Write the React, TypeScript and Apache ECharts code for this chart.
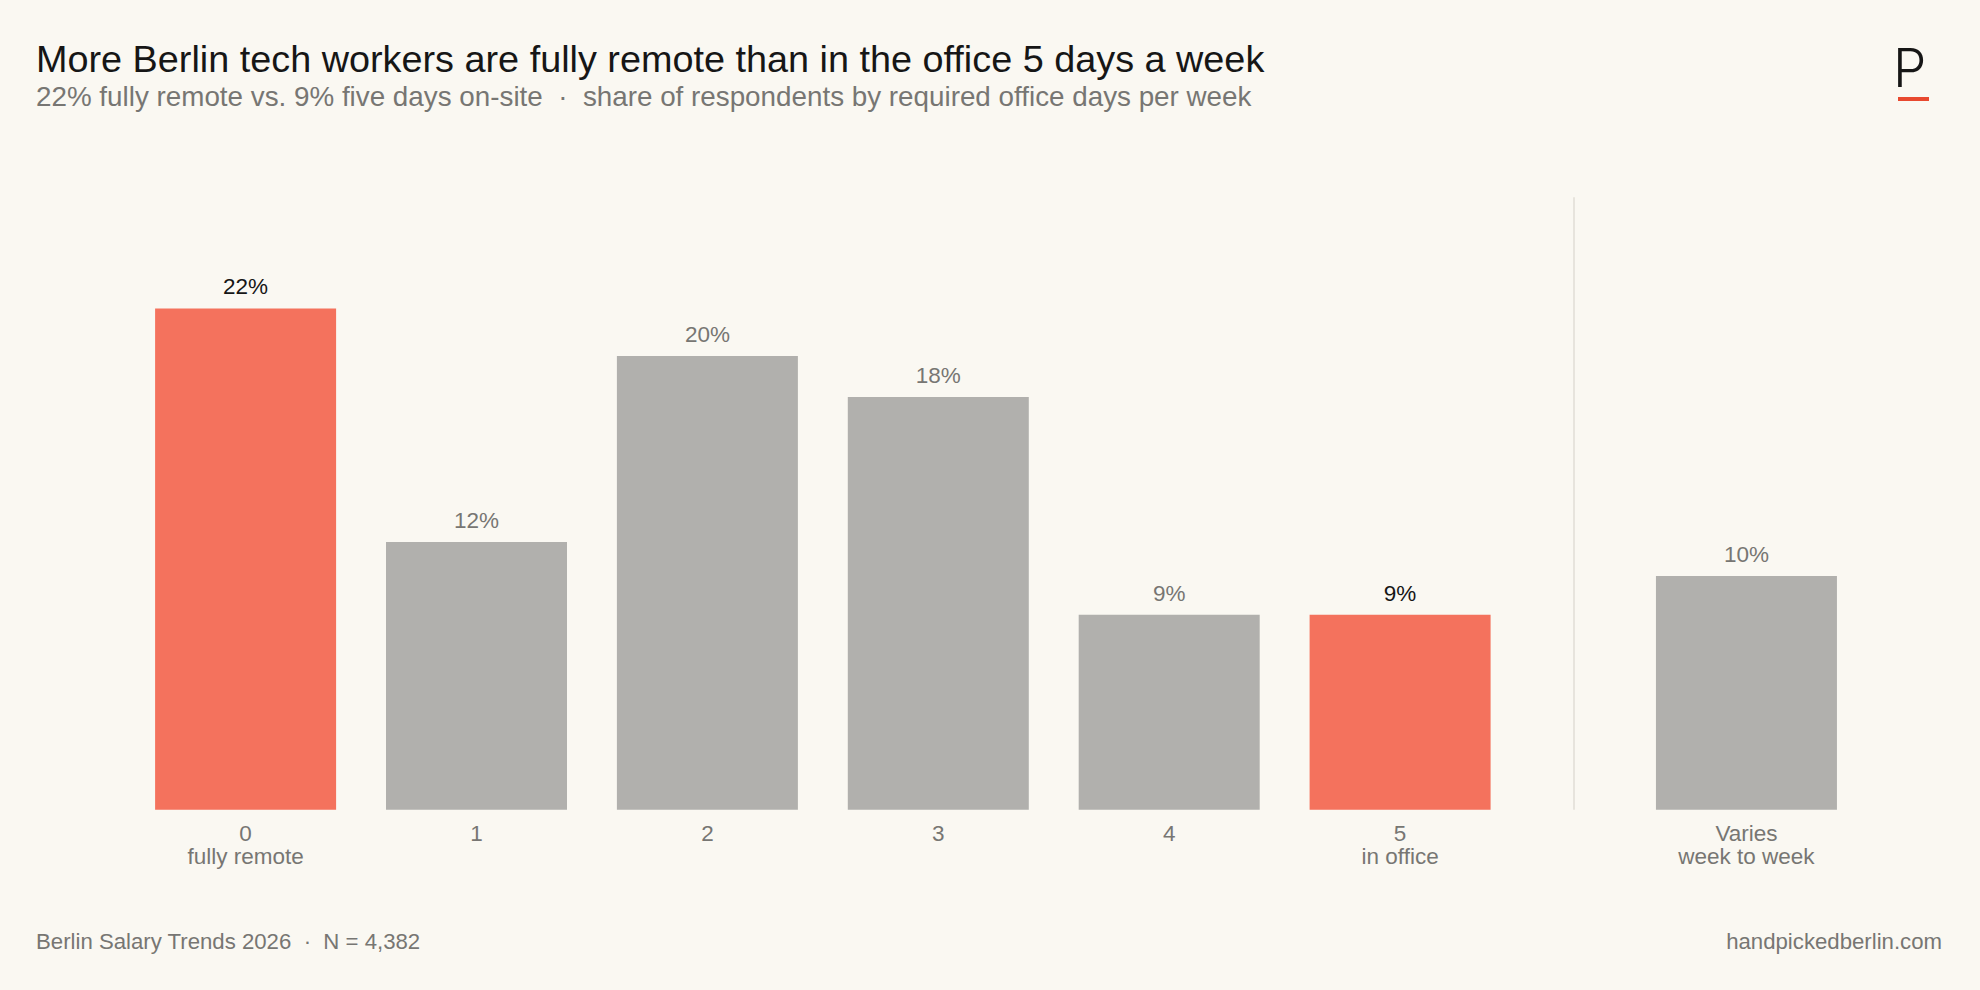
import React, { useEffect, useRef } from "react";
import * as echarts from "echarts";

// Required office days per week and the share of respondents for each answer
const dayCodes = ["0", "1", "2", "3", "4", "5", "Varies"];
const dayNotes = ["fully remote", "", "", "", "", "in office", "week to week"];
const dayPositions = [0, 1, 2, 3, 4, 5, 6.5];
const shareValues = [22.1, 11.8, 20.0, 18.2, 8.6, 8.6, 10.3];
const highlighted = [true, false, false, false, false, true, false];
const dividerAt = [5.75];

const titleText = "More Berlin tech workers are fully remote than in the office 5 days a week";
const subtitleText =
  "22% fully remote vs. 9% five days on-site  \u00b7  share of respondents by required office days per week";
const sourceText = "Berlin Salary Trends 2026  \u00b7  N = 4,382";
const siteText = "handpickedberlin.com";

const FONT = "'Liberation Sans', Arial, Helvetica, sans-serif";
const BG = "#faf8f2";
const RED = "#f4725d";
const GREY_BAR = "#b1b0ad";
const INK = "#161616";
const MUTED = "#777673";

export default function App() {
  const ref = useRef<HTMLDivElement>(null);

  useEffect(() => {
    if (!ref.current) return;
    const chart = echarts.init(ref.current, undefined, { renderer: "svg" });

    const labelFor = (v: number) => {
      const i = dayPositions.findIndex((p) => Math.abs(p - v) < 1e-6);
      if (i < 0) return "";
      return dayNotes[i] ? `${dayCodes[i]}\n${dayNotes[i]}` : dayCodes[i];
    };

    chart.setOption({
      animation: false,
      backgroundColor: BG,
      textStyle: { fontFamily: FONT },
      grid: { left: 130.15, width: 1731.75, top: 197.3, bottom: 180.3, containLabel: false },
      xAxis: {
        type: "value",
        min: -0.5,
        max: 7,
        splitLine: { show: false },
        axisLine: { show: false },
        axisTick: { show: false },
        axisLabel: {
          customValues: dayPositions,
          formatter: (v: number) => labelFor(v),
          color: MUTED,
          fontSize: 22.5,
          lineHeight: 23,
          margin: 12,
          fontFamily: FONT,
        },
      },
      yAxis: {
        type: "value",
        min: 0,
        max: 27,
        show: false,
        splitLine: { show: false },
      },
      series: [
        {
          type: "bar",
          barWidth: 181,
          data: shareValues.map((v, i) => ({
            value: [dayPositions[i], v],
            itemStyle: { color: highlighted[i] ? RED : GREY_BAR },
            label: { color: highlighted[i] ? INK : MUTED },
          })),
          label: {
            show: true,
            position: "top",
            distance: 10,
            fontSize: 22.5,
            fontFamily: FONT,
            formatter: (p: any) => `${Math.round(p.value[1])}%`,
          },
          markLine: {
            silent: true,
            symbol: "none",
            label: { show: false },
            lineStyle: { color: "#e7e4dd", width: 2, type: "solid" },
            data: dividerAt.map((x) => ({ xAxis: x })),
          },
        },
      ],
      graphic: [
        {
          type: "text",
          left: 36,
          top: 40,
          style: { text: titleText, fill: INK, font: `37.8px ${FONT}` },
        },
        {
          type: "text",
          left: 36,
          top: 82,
          style: { text: subtitleText, fill: MUTED, font: `27.8px ${FONT}` },
        },
        {
          type: "text",
          left: 36,
          top: 930,
          style: { text: sourceText, fill: MUTED, font: `22.2px ${FONT}` },
        },
        {
          type: "text",
          right: 38,
          top: 930,
          style: { text: siteText, fill: MUTED, font: `22.2px ${FONT}` },
        },
        {
          type: "text",
          left: 1893,
          top: 41,
          style: { text: "P", fill: INK, font: `300 53px Inter, ${FONT}` },
        },
        {
          type: "rect",
          left: 1898,
          top: 97,
          shape: { width: 31, height: 4 },
          style: { fill: "#e8492f" },
        },
      ],
    });

    return () => chart.dispose();
  }, []);

  return (
    <div
      ref={ref}
      style={{ position: "fixed", left: 0, top: 0, width: 1980, height: 990 }}
    />
  );
}
